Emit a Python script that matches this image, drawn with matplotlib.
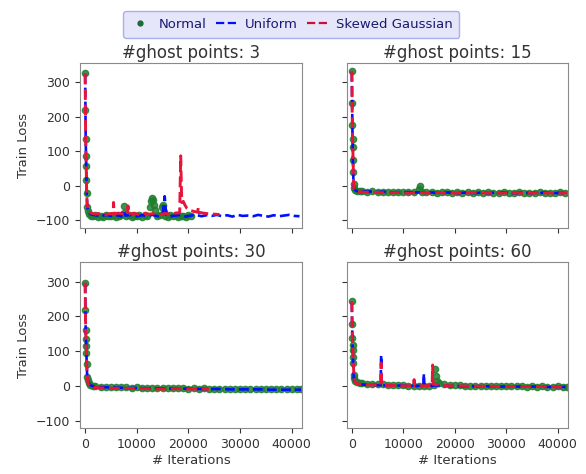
import matplotlib

matplotlib.use("Agg")
import matplotlib.pyplot as plt
from matplotlib.lines import Line2D

# ---- data (iterations, train loss) ----
ghost_counts = [3, 15, 30, 60]
series_labels = ["Normal", "Uniform", "Skewed Gaussian"]

# ghost points: 3
normal3_x = [0, 50, 100, 150, 200, 250, 300, 350, 500, 800,
             1200, 1600, 2000, 2500, 3000, 3500, 4000, 4500, 5000, 5500,
             6000, 6500, 7000, 7500, 7600, 8000, 8500, 9000, 9500, 10000,
             10500, 11000, 11500, 12000, 12500, 12800, 13000, 13200, 13400, 13600,
             14000, 14500, 14800, 15000, 15200, 15500, 16000, 16500, 17000, 17500,
             18000, 18500, 19000, 19500, 20000, 20500]
normal3_y = [327, 220, 135, 87, 57, 18, -22, -60, -72, -82,
             -86, -88, -85, -90, -86, -89, -84, -88, -87, -85,
             -90, -86, -84, -58, -80, -88, -85, -89, -86, -87,
             -84, -89, -85, -88, -62, -45, -35, -40, -55, -70,
             -88, -84, -60, -55, -75, -86, -89, -85, -88, -84,
             -90, -86, -87, -89, -85, -88]
uniform3_x = [0, 100, 200, 300, 400, 600, 1000, 2000, 3000, 4000,
              5000, 6000, 7000, 7400, 7800, 9000, 10000, 11000, 12000, 13000,
              14000, 15000, 15400, 15700, 16500, 17500, 18500, 19500, 20500, 21500,
              22500, 23500, 24500, 25500, 26500, 27500, 28500, 29500, 30500, 31500,
              32500, 33500, 34500, 35500, 36500, 37500, 38500, 39500, 40500, 41500]
uniform3_y = [325, 140, 60, -20, -60, -75, -82, -85, -88, -84,
              -87, -85, -88, -70, -86, -84, -88, -85, -87, -84,
              -88, -85, -30, -84, -88, -86, -84, -89, -86, -84,
              -88, -85, -87, -84, -88, -85, -89, -84, -87, -86,
              -88, -84, -87, -89, -85, -88, -86, -84, -87, -88]
skewed3_x = [0, 50, 100, 150, 200, 250, 300, 400, 600, 1000,
             1500, 2000, 3000, 4000, 5000, 5400, 5500, 5600, 6500, 7500,
             8200, 8300, 8400, 9500, 10500, 11500, 12500, 13500, 14500, 15500,
             16500, 17500, 18300, 18500, 18700, 19000, 19300, 19700, 20200, 21000,
             21800, 21900, 22000, 23000, 24000, 25000, 26000]
skewed3_y = [325, 220, 135, 87, 57, 18, -22, -55, -70, -78,
             -80, -82, -79, -83, -80, -82, -48, -81, -79, -82,
             -80, -58, -82, -79, -83, -80, -82, -79, -83, -80,
             -82, -79, -78, 87, -48, -45, -55, -65, -70, -74,
             -76, -62, -77, -79, -81, -82, -83]

# ghost points: 15
normal15_x = [0, 50, 100, 150, 200, 250, 300, 350, 400, 600,
              1000, 1500, 2000, 3000, 4000, 5000, 6000, 7000, 8000, 9000,
              10000, 11000, 12000, 13000, 13300, 13600, 14500, 15500, 16500, 17500,
              18500, 19500, 20500, 21500, 22500, 23500, 24500, 25500, 26500, 27500,
              28500, 29500, 30500, 31500, 32500, 33500, 34500, 35500, 36500, 37500,
              38500, 39500, 40500, 41500]
normal15_y = [333, 240, 175, 135, 112, 75, 40, 5, -5, -12,
              -14, -15, -16, -17, -16, -18, -17, -18, -17, -19,
              -18, -17, -19, -10, 0, -17, -19, -18, -20, -19,
              -18, -20, -19, -20, -18, -20, -19, -21, -19, -20,
              -21, -19, -20, -21, -19, -20, -21, -20, -19, -21,
              -20, -21, -19, -20]
uniform15_x = [0, 100, 200, 300, 400, 600, 1000, 2000, 3000, 4000,
               5000, 6000, 7000, 8000, 9000, 10000, 11000, 11800, 12000, 12200,
               13500, 14500, 15500, 16500, 17500, 18500, 19500, 20500, 21500, 22500,
               23500, 24500, 25500, 26500, 27500, 28500, 29500, 30500, 31500, 32500,
               33500, 34500, 35500, 36500, 37500, 38500, 39500, 40500, 41500]
uniform15_y = [330, 180, 80, 20, -5, -12, -15, -16, -17, -16,
               -18, -17, -18, -19, -18, -19, -18, -19, -12, -19,
               -19, -20, -19, -20, -21, -19, -20, -21, -20, -19,
               -21, -20, -19, -21, -20, -21, -19, -20, -21, -20,
               -19, -21, -20, -21, -19, -20, -21, -20, -21]
skewed15_x = [0, 50, 100, 150, 200, 250, 300, 350, 400, 600,
              1000, 2000, 3000, 4000, 5000, 6000, 7000, 8000, 9000, 10000,
              11000, 12000, 13000, 14000, 15000, 16000, 17000, 18000, 19000, 20000,
              21000, 22000, 23000, 24000, 25000, 26000, 27000, 28000, 29000, 30000,
              31000, 32000, 33000, 34000, 35000, 36000, 37000, 38000, 39000, 40000,
              41000, 41800]
skewed15_y = [333, 240, 175, 135, 110, 73, 38, 5, -8, -15,
              -17, -18, -19, -18, -19, -20, -19, -20, -19, -20,
              -21, -20, -19, -20, -21, -20, -19, -21, -20, -21,
              -20, -21, -20, -19, -21, -20, -21, -20, -21, -20,
              -21, -20, -21, -20, -21, -20, -21, -20, -21, -20,
              -21, -20]

# ghost points: 30
normal30_x = [0, 50, 100, 150, 200, 250, 300, 400, 500, 700,
              1000, 1500, 2000, 3000, 4000, 5000, 6000, 7000, 8000, 9000,
              10000, 11000, 12000, 13000, 14000, 15000, 16000, 17000, 18000, 19000,
              20000, 21000, 22000, 23000, 24000, 25000, 26000, 27000, 28000, 29000,
              30000, 31000, 32000, 33000, 34000, 35000, 36000, 37000, 38000, 39000,
              40000, 41000, 41800]
normal30_y = [297, 218, 161, 136, 115, 94, 64, 26, 18, 8,
              3, 0, -1, -2, -3, -2, -4, -3, -4, -5, -4,
              -5, -6, -5, -6, -7, -6, -7, -6, -7, -8,
              -7, -8, -7, -8, -8, -9, -8, -9, -8, -9,
              -9, -10, -9, -10, -9, -10, -9, -10, -10, -9,
              -10, -10]
uniform30_x = [0, 100, 200, 300, 400, 600, 1000, 2000, 4000, 6000,
               8000, 10000, 12000, 14000, 16000, 18000, 20000, 22000, 24000, 26000,
               28000, 30000, 32000, 34000, 36000, 38000, 40000, 41800]
uniform30_y = [295, 160, 115, 65, 25, 10, 2, -3, -4, -5,
               -6, -6, -7, -7, -8, -8, -8, -9, -9, -9,
               -10, -10, -10, -10, -11, -11, -11, -11]
skewed30_x = [0, 50, 100, 150, 200, 250, 300, 400, 600, 1000,
              2000, 3000, 4000, 6000, 8000, 10000, 12000, 14000, 16000, 18000,
              20000, 22000, 24000]
skewed30_y = [297, 218, 161, 136, 115, 94, 64, 26, 5, -2,
              -5, -6, -6, -7, -7, -8, -8, -9, -9, -8,
              -9, -9, -9]

# ghost points: 60
normal60_x = [0, 50, 100, 150, 200, 250, 300, 400, 500, 700,
              1000, 1500, 2000, 3000, 4000, 5000, 6000, 7000, 8000, 9000,
              10000, 11000, 12000, 13000, 14000, 15000, 16000, 16200, 16400, 16600,
              17000, 18000, 19000, 20000, 21000, 22000, 23000, 24000, 25000, 26000,
              27000, 28000, 29000, 30000, 31000, 32000, 33000, 34000, 35000, 36000,
              37000, 38000, 39000, 40000, 41000, 41800]
normal60_y = [244, 178, 138, 117, 103, 84, 65, 30, 22, 14,
              10, 8, 7, 6, 5, 4, 4, 3, 3, 2,
              2, 1, 1, 1, 0, 1, 2, 48, 28, 15,
              8, 4, 3, 2, 2, 1, 1, 0, 1, 0,
              0, -1, 0, -1, 0, -1, -1, -2, -1, -2,
              -1, -2, -2, -1, -2, -2]
uniform60_x = [0, 100, 200, 300, 400, 600, 1000, 2000, 3000, 4000,
               5000, 5600, 5700, 5800, 7000, 8000, 9000, 10000, 11000, 12000,
               13000, 13900, 14000, 14100, 15000, 16000, 17000, 18000, 20000, 22000,
               24000, 26000, 28000, 30000, 32000, 34000, 36000, 38000, 40000, 41800]
uniform60_y = [240, 140, 90, 40, 20, 10, 6, 4, 3, 3,
               2, 2, 88, 2, 1, 1, 1, 0, 0, 0,
               0, 0, 35, 0, 0, 1, 0, 0, -1, -1,
               -1, -1, -2, -2, -2, -2, -2, -3, -3, -3]
skewed60_x = [0, 50, 100, 150, 200, 250, 300, 400, 600, 1000,
              2000, 3000, 4000, 5000, 5600, 5700, 5800, 7000, 8000, 9000,
              10000, 11000, 12000, 12100, 12200, 13000, 14000, 15000, 15600, 15700,
              15800, 16500, 17500, 19000, 21000, 23000, 25000, 27000, 29000, 31000,
              33000, 35000, 37000, 39000, 41000, 41800]
skewed60_y = [244, 178, 138, 117, 103, 84, 65, 30, 12, 6,
              4, 3, 3, 2, 2, 65, 2, 1, 1, 1,
              0, 0, 0, 18, 0, 0, 0, 1, 2, 60,
              5, 3, 1, 0, 0, -1, -1, -1, -2, -2,
              -2, -2, -2, -3, -3, -3]

panels = [
    (normal3_x, normal3_y, uniform3_x, uniform3_y, skewed3_x, skewed3_y),
    (normal15_x, normal15_y, uniform15_x, uniform15_y, skewed15_x, skewed15_y),
    (normal30_x, normal30_y, uniform30_x, uniform30_y, skewed30_x, skewed30_y),
    (normal60_x, normal60_y, uniform60_x, uniform60_y, skewed60_x, skewed60_y),
]

GREEN = "#1f7f2f"
BLUE = "#0010ff"
RED = "#e8143a"
TEXT = "#333333"

plt.rcParams["font.family"] = "DejaVu Sans"
plt.rcParams["text.color"] = TEXT
plt.rcParams["axes.labelcolor"] = TEXT
plt.rcParams["xtick.color"] = TEXT
plt.rcParams["ytick.color"] = TEXT

fig = plt.figure(figsize=(5.86, 4.74), dpi=100)
positions = [
    [0.1365, 0.519, 0.379, 0.3475],
    [0.5916, 0.519, 0.3777, 0.3475],
    [0.1365, 0.0964, 0.379, 0.350],
    [0.5916, 0.0964, 0.3777, 0.350],
]

for i, (pos, data, n) in enumerate(zip(positions, panels, ghost_counts)):
    nx, ny, ux, uy, sx, sy = data
    ax = fig.add_axes(pos)
    ax.plot(nx, ny, linestyle="", marker="o", markersize=4.5, color=GREEN, alpha=0.85)
    ax.plot(ux, uy, linestyle="--", linewidth=1.9, color=BLUE)
    ax.plot(sx, sy, linestyle="--", linewidth=2.1, color=RED)
    ax.set_xlim(-1000, 42000)
    ax.set_ylim(-122, 355)
    ax.set_xticks([0, 10000, 20000, 30000, 40000])
    ax.set_yticks([-100, 0, 100, 200, 300])
    ax.tick_params(labelsize=9, length=3.5, colors=TEXT)
    for sp in ax.spines.values():
        sp.set_color("#8a8a8a")
    ax.set_title(f"#ghost points: {n}", fontsize=12, color=TEXT, pad=4)
    if i < 2:
        ax.tick_params(labelbottom=False)
    else:
        ax.set_xlabel("# Iterations", fontsize=9.5, labelpad=2)
    if i % 2 == 1:
        ax.tick_params(labelleft=False)
    else:
        ax.set_ylabel("Train Loss", fontsize=9.5)

handles = [
    Line2D([], [], linestyle="", marker="o", markersize=3.5, color="#1a6b35"),
    Line2D([], [], linestyle="--", linewidth=1.6, color=BLUE),
    Line2D([], [], linestyle="--", linewidth=1.6, color="#c8103a"),
]
fig.legend(handles, series_labels, loc="upper center", bbox_to_anchor=(0.497, 0.99), ncol=3,
           fontsize=9.5, facecolor="#e6e6fa", edgecolor="#a8b0e8", framealpha=1.0,
           labelcolor="#191970", fancybox=True, handlelength=1.6, handletextpad=0.6,
           columnspacing=0.7, borderpad=0.5)

fig.savefig("out.png", dpi=100)
